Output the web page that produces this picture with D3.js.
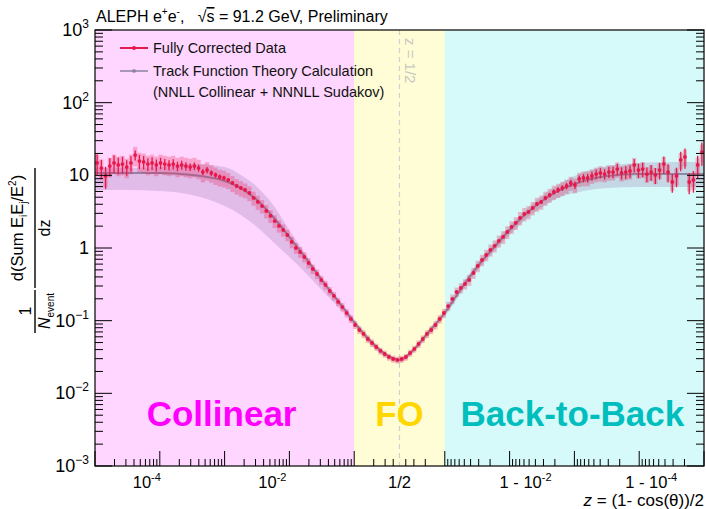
<!DOCTYPE html>
<html>
<head>
<meta charset="utf-8">
<script src="https://cdn.jsdelivr.net/npm/d3@7"></script>
<style>
  html, body { margin: 0; padding: 0; background: #fff; }
  svg { display: block; font-family: "Liberation Sans", Arial, Helvetica, sans-serif; }
</style>
</head>
<body>
<svg id="chart" width="706" height="509"></svg>
<script>
// ---------------------------------------------------------------------------
// Binning: logarithmic bins on each side of z = 1/2.
// Left side is binned in z, right side in (1 - z), both from 1e-5 up to 1/2.
// ---------------------------------------------------------------------------
const binsPerSide = 72;
const logMin = -5;
const logMax = Math.log10(0.5);

// Measured EEC, left side (z < 1/2), from small z toward z = 1/2
const dataLeft = [14.8, 12.6, 9.8, 13.4, 14.8, 13.9, 14.3, 13.0, 14.8, 19.0,
  15.7, 15.3, 14.3, 14.8, 13.9, 14.8, 14.3, 13.9, 14.3, 13.4,
  13.9, 13.4, 13.0, 13.4, 12.6, 11.1, 11.8, 10.8, 10.1, 9.49,
  9.19, 8.63, 7.84, 7.13, 6.69, 6.28, 5.71, 4.88, 4.30, 3.78,
  3.23, 2.76, 2.35, 2.01, 1.77, 1.51, 1.21, 1.00, 0.881, 0.752,
  0.622, 0.514, 0.439, 0.363, 0.310, 0.256, 0.219, 0.181, 0.154, 0.1275,
  0.1054, 0.0872, 0.0744, 0.0656, 0.0559, 0.0493, 0.0434, 0.0383, 0.0348, 0.0316,
  0.0297, 0.0288];

// Measured EEC, right side (z > 1/2), from z = 1/2 toward z -> 1
const dataRight = [0.0297, 0.0316, 0.0359, 0.0408, 0.0478, 0.0559, 0.0656, 0.0744, 0.0872, 0.1054,
  0.1275, 0.159, 0.199, 0.248, 0.282, 0.320, 0.363, 0.453, 0.566, 0.684,
  0.801, 0.939, 1.07, 1.25, 1.42, 1.66, 1.95, 2.21, 2.59, 2.94,
  3.13, 3.55, 4.03, 4.30, 4.88, 5.36, 5.90, 6.28, 6.69, 7.13,
  7.84, 7.36, 8.90, 9.19, 9.19, 9.80, 10.4, 10.8, 10.4, 11.1,
  11.1, 12.2, 10.8, 11.1, 11.5, 13.9, 11.8, 12.2, 10.4, 11.1,
  10.1, 11.8, 14.3, 11.1, 8.09, 9.80, 16.3, 17.9, 8.09, 8.63,
  13.9, 20.9];

// Relative statistical uncertainties
const statLeft = [0.32, 0.30, 0.34, 0.28, 0.28, 0.26, 0.26, 0.24, 0.24, 0.16,
  0.22, 0.21, 0.20, 0.20, 0.19, 0.18, 0.17, 0.16, 0.16, 0.15,
  0.14, 0.13, 0.12, 0.12, 0.11, 0.10, 0.10, 0.09, 0.08, 0.08,
  0.07, 0.06, 0.06, 0.05, 0.05, 0.04, 0.04, 0.035, 0.03, 0.03,
  0.025, 0.025, 0.02, 0.02, 0.02, 0.02, 0.015, 0.015, 0.015, 0.015,
  0.015, 0.015, 0.015, 0.015, 0.015, 0.015, 0.015, 0.015, 0.015, 0.015,
  0.015, 0.015, 0.015, 0.015, 0.015, 0.015, 0.015, 0.015, 0.015, 0.015,
  0.015, 0.015];
const statRight = [0.015, 0.015, 0.015, 0.015, 0.015, 0.015, 0.015, 0.015, 0.015, 0.015,
  0.015, 0.015, 0.015, 0.015, 0.015, 0.015, 0.015, 0.015, 0.015, 0.015,
  0.02, 0.02, 0.025, 0.025, 0.03, 0.03, 0.035, 0.035, 0.04, 0.04,
  0.05, 0.05, 0.06, 0.06, 0.07, 0.07, 0.08, 0.09, 0.09, 0.10,
  0.11, 0.12, 0.12, 0.13, 0.14, 0.14, 0.15, 0.16, 0.16, 0.17,
  0.18, 0.18, 0.19, 0.20, 0.20, 0.21, 0.22, 0.22, 0.23, 0.24,
  0.25, 0.26, 0.27, 0.28, 0.29, 0.30, 0.30, 0.31, 0.32, 0.33,
  0.34, 0.35];

// Relative systematic uncertainties
const sysLeft = [0.30, 0.30, 0.30, 0.30, 0.30, 0.30, 0.30, 0.30, 0.30, 0.30,
  0.30, 0.30, 0.30, 0.30, 0.30, 0.30, 0.30, 0.30, 0.30, 0.30,
  0.30, 0.30, 0.30, 0.30, 0.30, 0.28, 0.28, 0.27, 0.27, 0.26,
  0.26, 0.25, 0.25, 0.24, 0.24, 0.23, 0.23, 0.22, 0.22, 0.21,
  0.21, 0.20, 0.20, 0.19, 0.19, 0.18, 0.18, 0.17, 0.17, 0.16,
  0.16, 0.15, 0.15, 0.14, 0.14, 0.13, 0.13, 0.13, 0.13, 0.13,
  0.12, 0.12, 0.12, 0.12, 0.12, 0.12, 0.11, 0.11, 0.11, 0.11,
  0.11, 0.11];
const sysRight = [0.11, 0.11, 0.11, 0.11, 0.12, 0.12, 0.12, 0.12, 0.13, 0.13,
  0.14, 0.14, 0.15, 0.15, 0.16, 0.16, 0.17, 0.17, 0.18, 0.18,
  0.18, 0.19, 0.19, 0.19, 0.20, 0.20, 0.20, 0.20, 0.21, 0.21,
  0.21, 0.21, 0.22, 0.22, 0.22, 0.22, 0.22, 0.22, 0.22, 0.22,
  0.22, 0.23, 0.22, 0.23, 0.23, 0.22, 0.23, 0.24, 0.23, 0.24,
  0.23, 0.24, 0.24, 0.23, 0.24, 0.25, 0.24, 0.25, 0.24, 0.25,
  0.25, 0.24, 0.25, 0.26, 0.25, 0.26, 0.25, 0.26, 0.26, 0.27,
  0.26, 0.27];

// Theory (track functions, NNLL collinear + NNNLL Sudakov): central value and band
const theoryLogZ = [-5, -4.5, -4, -3.5, -3, -2.75, -2.5, -2.25, -2, -1.75, -1.5, -1.25, -1, -0.75, -0.5, logMax];
const theoryLeft   = [10.8, 10.8, 10.8, 10.1, 8.36, 6.69, 4.58, 2.67, 1.42, 0.729, 0.363, 0.187, 0.0959, 0.0525, 0.0337, 0.0288];
const theoryLeftHi = [12.6, 12.6, 13.0, 14.3, 13.0, 10.1, 6.91, 3.91, 1.77, 0.827, 0.399, 0.205, 0.1054, 0.0577, 0.0359, 0.0306];
const theoryLeftLo = [6.28, 6.28, 6.09, 5.36, 3.78, 2.85, 1.95, 1.21, 0.752, 0.453, 0.264, 0.154, 0.0845, 0.0463, 0.0306, 0.0262];

const theoryLog1mZ = [logMax, -0.5, -0.75, -1, -1.25, -1.5, -1.75, -2, -2.25, -2.5, -2.75, -3, -3.5, -4, -4.5, -5];
const theoryRight   = [0.0288, 0.0383, 0.0698, 0.1275, 0.273, 0.548, 1.00, 1.77, 2.94, 4.44, 6.09, 7.60, 9.8, 10.4, 10.4, 10.4];
const theoryRightHi = [0.0306, 0.0408, 0.0768, 0.145, 0.310, 0.622, 1.14, 2.01, 3.33, 5.19, 7.36, 9.8, 13.4, 14.8, 15.3, 15.3];
const theoryRightLo = [0.0262, 0.0348, 0.0615, 0.1123, 0.240, 0.483, 0.881, 1.51, 2.51, 3.67, 4.88, 5.71, 6.69, 6.91, 6.91, 6.91];

// Kinematic regions (edges given as [side, z or 1 - z])
const regionNames = ["Collinear", "FO", "Back-to-Back"];
const regionEdges = [["L", 1e-5], ["L", 0.1], ["R", 0.1], ["R", 1e-5]];

// Axis labels
const yTickExponents = [3, 2, 1, 0, -1, -2, -3];
const xTickLabels = [
  { side: "L", t: 1e-4, pre: "", base: "10", exp: "-4" },
  { side: "L", t: 1e-2, pre: "", base: "10", exp: "-2" },
  { side: "L", t: 0.5,  pre: "1/2", base: "", exp: "" },
  { side: "R", t: 1e-2, pre: "1 - ", base: "10", exp: "-2" },
  { side: "R", t: 1e-4, pre: "1 - ", base: "10", exp: "-4" }
];
const legendEntries = ["Fully Corrected Data", "Track Function Theory Calculation", "(NNLL Collinear + NNNLL Sudakov)"];

// ---------------------------------------------------------------------------
// Styles and layout
// ---------------------------------------------------------------------------
const frame = { left: 95, right: 704, top: 30, bottom: 466 };
const mid = (frame.left + frame.right) / 2;
const regionFill = ["#FFD6FF", "#FFFDD6", "#D6FAFA"];
const regionText = ["#FF00FF", "#FFD700", "#00BEBE"];
const dataColor = "#E8174B";
const theoryColor = "#857B9A";
const bandColor = "#8C6FA8";
const xLabelShift = [-13, -17, 0, 16, 12];

const svg = d3.select("#chart");

// Scales: log in z on the left half, log in (1 - z) on the right half
const y  = d3.scaleLog().domain([1e-3, 1e3]).range([frame.bottom, frame.top]);
const xL = d3.scaleLog().domain([1e-5, 0.5]).range([frame.left, mid]);
const xR = d3.scaleLog().domain([0.5, 1e-5]).range([mid, frame.right]);
const xPos = (side, t) => side === "L" ? xL(t) : xR(t);

const binW = (logMax - logMin) / binsPerSide;
const bins = [
  ...dataLeft.map((v, i) => ({
    side: "L", a: 10 ** (logMin + i * binW), b: 10 ** (logMin + (i + 1) * binW),
    c: 10 ** (logMin + (i + 0.5) * binW), v, stat: statLeft[i], sys: sysLeft[i]
  })),
  ...dataRight.map((v, j) => ({
    side: "R", a: 10 ** (logMax - j * binW), b: 10 ** (logMax - (j + 1) * binW),
    c: 10 ** (logMax - (j + 0.5) * binW), v, stat: statRight[j], sys: sysRight[j]
  }))
];

// Clip for everything drawn inside the frame
svg.append("clipPath").attr("id", "plotClip").append("rect")
  .attr("x", frame.left).attr("y", frame.top)
  .attr("width", frame.right - frame.left).attr("height", frame.bottom - frame.top);

const plot = svg.append("g").attr("clip-path", "url(#plotClip)");

// Region backgrounds
regionNames.forEach((name, k) => {
  const x0 = xPos(...regionEdges[k]);
  const x1 = xPos(...regionEdges[k + 1]);
  plot.append("rect")
    .attr("x", x0).attr("y", frame.top)
    .attr("width", x1 - x0).attr("height", frame.bottom - frame.top)
    .attr("fill", regionFill[k]);
});

// Theory band and central curve
const theoryPts = [
  ...theoryLogZ.map((lz, i) => ({ x: xL(10 ** lz), c: theoryLeft[i], lo: theoryLeftLo[i], hi: theoryLeftHi[i] })),
  ...theoryLog1mZ.slice(1).map((lu, i) => ({ x: xR(10 ** lu), c: theoryRight[i + 1], lo: theoryRightLo[i + 1], hi: theoryRightHi[i + 1] }))
];
plot.append("path").datum(theoryPts)
  .attr("d", d3.area().x(d => d.x).y0(d => y(d.lo)).y1(d => y(d.hi)).curve(d3.curveMonotoneX))
  .attr("fill", bandColor).attr("fill-opacity", 0.25);
plot.append("path").datum(theoryPts)
  .attr("d", d3.line().x(d => d.x).y(d => y(d.c)).curve(d3.curveMonotoneX))
  .attr("fill", "none").attr("stroke", theoryColor).attr("stroke-width", 2).attr("stroke-opacity", 0.85);

// z = 1/2 marker line
plot.append("line")
  .attr("x1", xL(0.5)).attr("x2", xL(0.5))
  .attr("y1", frame.top).attr("y2", frame.bottom)
  .attr("stroke", "#CFCFCF").attr("stroke-width", 1.2).attr("stroke-dasharray", "5,4");
svg.append("text")
  .attr("transform", `translate(${xL(0.5) + 5},38) rotate(90)`)
  .attr("font-size", 15).attr("fill", "#C8C8C0")
  .text("z = 1/2");

// Systematic boxes
plot.selectAll("rect.sys").data(bins).join("rect").attr("class", "sys")
  .attr("x", d => Math.min(xPos(d.side, d.a), xPos(d.side, d.b)))
  .attr("width", d => Math.abs(xPos(d.side, d.b) - xPos(d.side, d.a)))
  .attr("y", d => y(d.v * (1 + d.sys)))
  .attr("height", d => y(d.v * (1 - d.sys)) - y(d.v * (1 + d.sys)))
  .attr("fill", dataColor).attr("fill-opacity", 0.27);

// Statistical error bars
plot.selectAll("line.stat").data(bins).join("line").attr("class", "stat")
  .attr("x1", d => xPos(d.side, d.c)).attr("x2", d => xPos(d.side, d.c))
  .attr("y1", d => y(d.v * (1 - d.stat))).attr("y2", d => y(d.v * (1 + d.stat)))
  .attr("stroke", dataColor).attr("stroke-width", 1.3);

// Data points
plot.selectAll("circle.pt").data(bins).join("circle").attr("class", "pt")
  .attr("cx", d => xPos(d.side, d.c)).attr("cy", d => y(d.v))
  .attr("r", 1.9).attr("fill", dataColor);

// Region names
const regionCenters = [
  (xPos(...regionEdges[0]) + xPos(...regionEdges[1])) / 2 - 3,
  xL(0.5),
  (xPos(...regionEdges[2]) + xPos(...regionEdges[3])) / 2 - 2
];
regionNames.forEach((name, k) => {
  svg.append("text")
    .attr("x", regionCenters[k]).attr("y", 426)
    .attr("text-anchor", "middle").attr("font-size", 35).attr("font-weight", "bold")
    .attr("fill", regionText[k]).text(name);
});

// Frame
svg.append("rect")
  .attr("x", frame.left).attr("y", frame.top)
  .attr("width", frame.right - frame.left).attr("height", frame.bottom - frame.top)
  .attr("fill", "none").attr("stroke", "#000").attr("stroke-width", 1.2);

// Y ticks (left and right, pointing inward)
const axisG = svg.append("g").attr("stroke", "#000").attr("stroke-width", 1);
y.ticks().forEach(v => {
  const major = Math.abs(Math.log10(v) - Math.round(Math.log10(v))) < 1e-9;
  const len = major ? 17 : 8;
  axisG.append("line").attr("x1", frame.left).attr("x2", frame.left + len)
    .attr("y1", y(v)).attr("y2", y(v));
  axisG.append("line").attr("x1", frame.right).attr("x2", frame.right - len)
    .attr("y1", y(v)).attr("y2", y(v));
});

// X ticks (bottom): each half is its own log axis
[["L", xL], ["R", xR]].forEach(([side, sc]) => {
  sc.ticks().forEach(t => {
    if (t >= 0.5 - 1e-12) return;
    const major = Math.abs(Math.log10(t) - Math.round(Math.log10(t))) < 1e-9;
    const len = major ? 15 : 7;
    axisG.append("line").attr("x1", sc(t)).attr("x2", sc(t))
      .attr("y1", frame.bottom).attr("y2", frame.bottom - len);
  });
});

// Y tick labels
yTickExponents.forEach(e => {
  const t = svg.append("text")
    .attr("x", 89).attr("y", y(10 ** e) + 6)
    .attr("text-anchor", "end").attr("font-size", 18).attr("fill", "#000");
  if (e === 1) t.text("10");
  else if (e === 0) t.text("1");
  else {
    t.append("tspan").text("10");
    t.append("tspan").attr("dy", -8).attr("font-size", 12).text(e < 0 ? "\u2212" + (-e) : String(e));
  }
});

// X tick labels
xTickLabels.forEach((lab, k) => {
  const t = svg.append("text")
    .attr("x", xPos(lab.side, lab.t) + xLabelShift[k]).attr("y", 488)
    .attr("text-anchor", "middle").attr("font-size", 16.5).attr("fill", "#000");
  if (lab.pre) t.append("tspan").text(lab.pre);
  if (lab.base) {
    t.append("tspan").text(lab.base);
    t.append("tspan").attr("dy", -7).attr("font-size", 11).text(lab.exp);
  }
});

// X axis title
const xt = svg.append("text")
  .attr("x", frame.right).attr("y", 506)
  .attr("text-anchor", "end").attr("font-size", 17).attr("fill", "#000");
xt.append("tspan").attr("font-style", "italic").text("z");
xt.append("tspan").text(" = (1- cos(\u03B8))/2");

// Y axis title: 1/N_event  d(Sum E_i E_j / E^2)/dz
const yt = svg.append("g").attr("transform", "translate(35,247) rotate(-90)");
yt.append("line").attr("x1", -86).attr("x2", -43).attr("y1", 0).attr("y2", 0)
  .attr("stroke", "#000").attr("stroke-width", 1.4);
yt.append("line").attr("x1", -41).attr("x2", 79).attr("y1", 0).attr("y2", 0)
  .attr("stroke", "#000").attr("stroke-width", 1.4);
yt.append("text").attr("x", -64).attr("y", -4).attr("text-anchor", "middle")
  .attr("font-size", 16).text("1");
const nEv = yt.append("text").attr("x", -64).attr("y", 15).attr("text-anchor", "middle").attr("font-size", 16);
nEv.append("tspan").attr("font-style", "italic").text("N");
nEv.append("tspan").attr("dy", 4).attr("font-size", 10).text("event");
const numer = yt.append("text").attr("x", 19).attr("y", -12).attr("text-anchor", "middle").attr("font-size", 16.5);
numer.append("tspan").text("d(Sum E");
numer.append("tspan").attr("dy", 4).attr("font-size", 10).text("i");
numer.append("tspan").attr("dy", -4).text("E");
numer.append("tspan").attr("dy", 4).attr("font-size", 10).text("j");
numer.append("tspan").attr("dy", -4).text("/E");
numer.append("tspan").attr("dy", -7).attr("font-size", 10).text("2");
numer.append("tspan").attr("dy", 7).text(")");
yt.append("text").attr("x", 19).attr("y", 15).attr("text-anchor", "middle")
  .attr("font-size", 16).text("dz");

// Title
const title = svg.append("text").attr("x", 96).attr("y", 22).attr("font-size", 16).attr("fill", "#000");
title.append("tspan").text("ALEPH e");
title.append("tspan").attr("dy", -7).attr("font-size", 10).text("+");
title.append("tspan").attr("dy", 7).text("e");
title.append("tspan").attr("dy", -7).attr("font-size", 10).text("-");
title.append("tspan").attr("dy", 7).text(",\u00A0\u00A0\u00A0\u221A");
title.append("tspan").attr("text-decoration", "overline").text("s");
title.append("tspan").text(" = 91.2 GeV, Preliminary");

// Legend
const legendY = [48, 71, 92];
const lg = svg.append("g");
[[dataColor, 0], [theoryColor, 1]].forEach(([col, k]) => {
  lg.append("line").attr("x1", 120).attr("x2", 148).attr("y1", legendY[k]).attr("y2", legendY[k])
    .attr("stroke", col).attr("stroke-width", 2).attr("stroke-opacity", k ? 0.7 : 1);
  lg.append("circle").attr("cx", 134).attr("cy", legendY[k]).attr("r", 2)
    .attr("fill", col).attr("fill-opacity", k ? 0.7 : 1);
});
legendEntries.forEach((txt, k) => {
  lg.append("text").attr("x", 153).attr("y", legendY[k] + 5)
    .attr("font-size", 14.5).attr("fill", "#111").text(txt);
});
</script>
</body>
</html>
